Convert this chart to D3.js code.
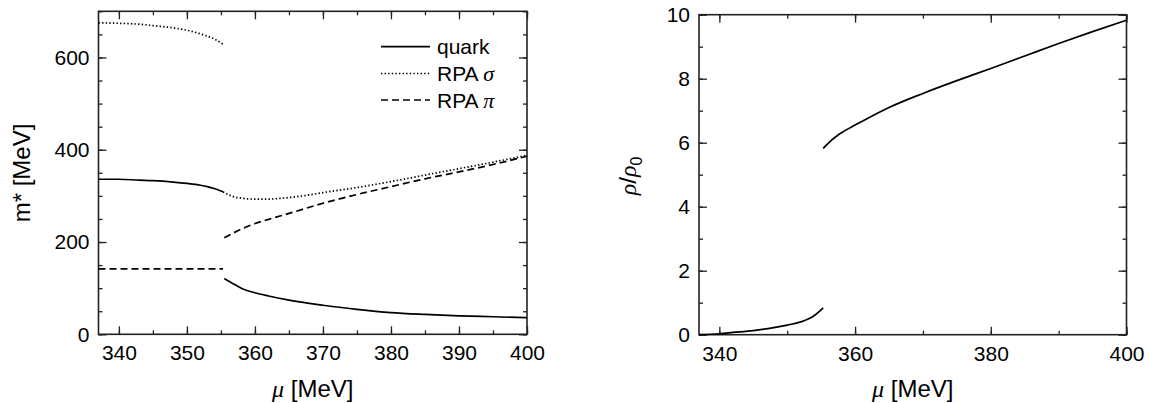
<!DOCTYPE html>
<meta charset="utf-8">
<style>
    body { margin: 0; background: #fff; }
    svg { font-family: "Liberation Sans", Arial, sans-serif; }
    .frame { fill: none; stroke: #222; stroke-width: 1.6px; }
    .axis path { display: none; }
    .axis line { stroke: #222; stroke-width: 1.3px; }
    .axis text { font-size: 21px; fill: #000; font-family: "Liberation Sans", Arial, sans-serif; }
    .curve { fill: none; stroke: #000; stroke-width: 1.7px; }
    .greek { font-family: "Liberation Serif", "DejaVu Serif", serif; font-style: italic; }
</style>
<svg width="1149" height="403"></svg>
<script src="https://cdn.jsdelivr.net/npm/d3@7"></script>
<script>

    // ---- left panel: effective masses m* [MeV] vs mu ----
    var quarkLoMu = [337, 340, 343, 345, 348, 350, 352, 353, 354, 355.3];
    var quarkLoM  = [336, 336, 334, 333, 330, 327, 323, 320, 316, 309];
    var quarkHiMu = [355.5, 357, 358, 360, 362, 365, 368, 370, 375, 380, 385, 390, 395, 400];
    var quarkHiM  = [121, 108, 100, 90, 83, 74, 67, 63, 54, 47, 43, 40, 38, 36];

    var sigmaLoMu = [337, 340, 343, 345, 348, 350, 352, 354, 355.3];
    var sigmaLoM  = [675, 674, 672, 669, 664, 659, 651, 640, 629];
    var sigmaHiMu = [355.3, 356.5, 358, 360, 362, 364, 366, 368, 370, 375, 380, 385, 390, 395, 400];
    var sigmaHiM  = [309, 300, 295, 293, 293, 295, 298, 302, 307, 318, 331, 345, 359, 373, 388];

    var piLoMu = [337, 355.3];
    var piLoM  = [142, 142];
    var piHiMu = [355.5, 358, 360, 362, 365, 370, 375, 380, 385, 390, 395, 400];
    var piHiM  = [209, 228, 240, 249, 262, 284, 303, 320, 337, 352, 368, 386];

    // ---- right panel: rho/rho0 vs mu ----
    var rhoLoMu = [337, 340, 342, 345, 348, 350, 352, 353, 354, 354.7, 355.3];
    var rhoLo   = [0, 0.03, 0.07, 0.13, 0.22, 0.30, 0.40, 0.48, 0.60, 0.72, 0.84];
    var rhoHiMu = [355.3, 356.5, 357.7, 360, 362.1, 365, 370, 375, 380, 385, 390, 395, 400];
    var rhoHi   = [5.82, 6.07, 6.27, 6.55, 6.79, 7.1, 7.54, 7.94, 8.32, 8.71, 9.1, 9.47, 9.83];

    var leftXTicks = [340, 350, 360, 370, 380, 390, 400];
    var leftYTicks = [0, 200, 400, 600];
    var rightXTicks = [340, 360, 380, 400];
    var rightYTicks = [0, 2, 4, 6, 8, 10];

    var legendNames = ["quark", "RPA ", "RPA "];
    var legendGreek = ["", "\u03c3", "\u03c0"];
    var legendDash = [null, "1.4,2.2", "7,4"];

    var svg = d3.select("svg");

    function zip(xs, ys) {
        return xs.map(function (x, i) { return [x, ys[i]]; });
    }

    function panel(o) {
        var g = svg.append("g");
        var x = d3.scaleLinear().domain([337, 400]).range([o.x0, o.x1]);
        var y = d3.scaleLinear().domain(o.yDomain).range([o.y1, o.y0]);

        var xMinor = d3.range(340, 401, o.xMinorStep);
        var yMinor = d3.range(o.yDomain[0], o.yDomain[1] + 1e-9, o.yMinorStep);

        // minor ticks on all sides
        g.append("g").attr("class", "axis").attr("transform", "translate(0," + o.y1 + ")")
            .call(d3.axisBottom(x).tickValues(xMinor).tickSize(-4).tickFormat(""));
        g.append("g").attr("class", "axis").attr("transform", "translate(0," + o.y0 + ")")
            .call(d3.axisTop(x).tickValues(xMinor).tickSize(-4).tickFormat(""));
        g.append("g").attr("class", "axis").attr("transform", "translate(" + o.x0 + ",0)")
            .call(d3.axisLeft(y).tickValues(yMinor).tickSize(-4).tickFormat(""));
        g.append("g").attr("class", "axis").attr("transform", "translate(" + o.x1 + ",0)")
            .call(d3.axisRight(y).tickValues(yMinor).tickSize(-4).tickFormat(""));

        // major ticks
        g.append("g").attr("class", "axis").attr("transform", "translate(0," + o.y1 + ")")
            .call(d3.axisBottom(x).tickValues(o.xTicks).tickSize(-8).tickPadding(11).tickFormat(d3.format("d")));
        g.append("g").attr("class", "axis").attr("transform", "translate(0," + o.y0 + ")")
            .call(d3.axisTop(x).tickValues(o.xTicks).tickSize(-8).tickFormat(""));
        g.append("g").attr("class", "axis").attr("transform", "translate(" + o.x0 + ",0)")
            .call(d3.axisLeft(y).tickValues(o.yTicks).tickSize(-8).tickPadding(9).tickFormat(d3.format("d")));
        g.append("g").attr("class", "axis").attr("transform", "translate(" + o.x1 + ",0)")
            .call(d3.axisRight(y).tickValues(o.yTicks).tickSize(-8).tickFormat(""));

        g.append("rect").attr("class", "frame")
            .attr("x", o.x0).attr("y", o.y0)
            .attr("width", o.x1 - o.x0).attr("height", o.y1 - o.y0);

        var line = d3.line()
            .x(function (d) { return x(d[0]); })
            .y(function (d) { return y(d[1]); })
            .curve(d3.curveMonotoneX);

        o.series.forEach(function (s) {
            g.append("path").attr("class", "curve")
                .attr("d", line(zip(s.mu, s.v)))
                .attr("stroke-dasharray", s.dash);
        });

        // x title
        var xt = g.append("text")
            .attr("x", (o.x0 + o.x1) / 2).attr("y", 397)
            .attr("text-anchor", "middle").style("font-size", "24px");
        xt.append("tspan").attr("class", "greek").text("\u03bc");
        xt.append("tspan").text(" [MeV]");

        return { g: g, x: x, y: y };
    }

    var L = panel({
        x0: 98.5, x1: 527, y0: 11.3, y1: 334.3,
        yDomain: [0, 700], xMinorStep: 5, yMinorStep: 50,
        xTicks: leftXTicks, yTicks: leftYTicks,
        series: [
            { mu: quarkLoMu, v: quarkLoM, dash: null },
            { mu: quarkHiMu, v: quarkHiM, dash: null },
            { mu: sigmaLoMu, v: sigmaLoM, dash: legendDash[1] },
            { mu: sigmaHiMu, v: sigmaHiM, dash: legendDash[1] },
            { mu: piLoMu, v: piLoM, dash: legendDash[2] },
            { mu: piHiMu, v: piHiM, dash: legendDash[2] }
        ]
    });

    L.g.append("text")
        .attr("transform", "translate(30,173) rotate(-90)")
        .attr("text-anchor", "middle").style("font-size", "24px")
        .text("m* [MeV]");

    // legend
    var leg = L.g.append("g").selectAll("g").data(legendNames).enter().append("g")
        .attr("transform", function (d, i) { return "translate(381," + [46.7, 73.5, 100][i] + ")"; });
    leg.append("line").attr("class", "curve")
        .attr("x1", 0).attr("x2", 49).attr("y1", 0).attr("y2", 0)
        .attr("stroke-dasharray", function (d, i) { return legendDash[i]; });
    var lt = leg.append("text").attr("x", 56).attr("y", 7.5).style("font-size", "21px");
    lt.append("tspan").text(function (d) { return d; });
    lt.append("tspan").attr("class", "greek").style("font-size", "22px")
        .text(function (d, i) { return legendGreek[i]; });

    var R = panel({
        x0: 699, x1: 1126.5, y0: 14.7, y1: 334.7,
        yDomain: [0, 10], xMinorStep: 10, yMinorStep: 1,
        xTicks: rightXTicks, yTicks: rightYTicks,
        series: [
            { mu: rhoLoMu, v: rhoLo, dash: null },
            { mu: rhoHiMu, v: rhoHi, dash: null }
        ]
    });

    var rt = R.g.append("text")
        .attr("transform", "translate(636,176) rotate(-90)")
        .attr("text-anchor", "middle").style("font-size", "24px");
    rt.append("tspan").attr("class", "greek").text("\u03c1");
    rt.append("tspan").text("/");
    rt.append("tspan").attr("class", "greek").text("\u03c1");
    rt.append("tspan").attr("dy", 6).style("font-size", "16px").text("0");

</script>
